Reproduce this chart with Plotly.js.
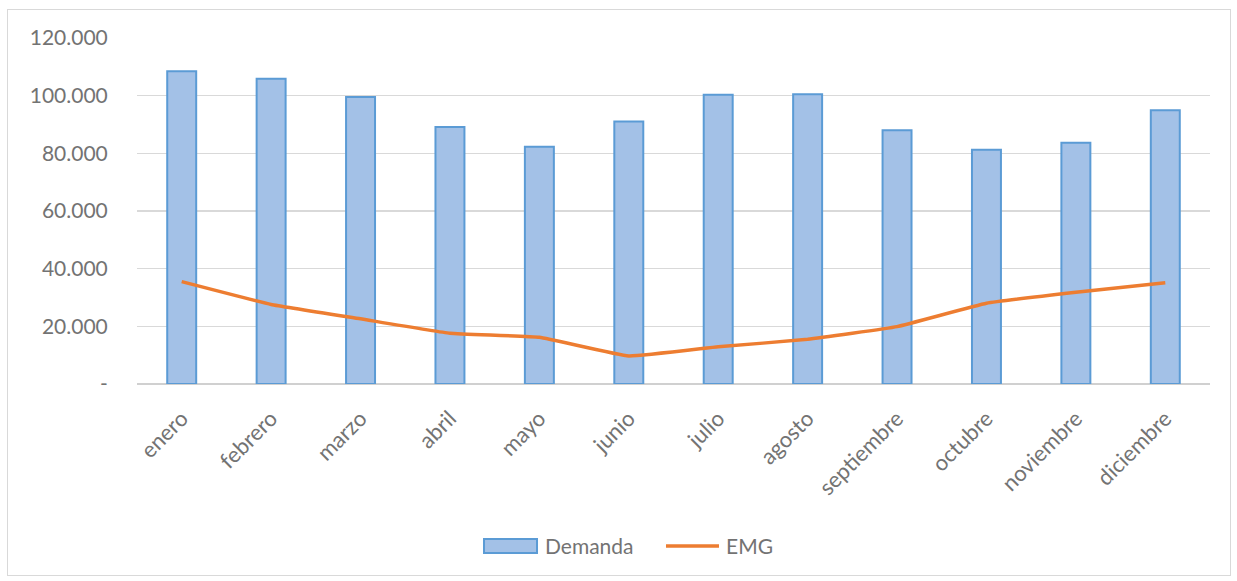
<!DOCTYPE html>
<html>
<head>
<meta charset="utf-8">
<script src="https://cdn.plot.ly/plotly-3.0.1.min.js"></script>
<style>
  html, body { margin: 0; padding: 0; background: #fff; }
  #wrap { position: relative; width: 1237px; height: 581px; }
  #chart { width: 1237px; height: 581px; }
  #frame {
    position: absolute; left: 7px; top: 9px; width: 1222px; height: 565px;
    border: 1px solid #d9d9d9; pointer-events: none;
  }
</style>
</head>
<body>
<div id="wrap">
  <div id="chart"></div>
  <div id="frame"></div>
</div>
<script>
// Monthly demand and EMG
const months = ['enero', 'febrero', 'marzo', 'abril', 'mayo', 'junio',
                'julio', 'agosto', 'septiembre', 'octubre', 'noviembre', 'diciembre'];
const demanda = [108500, 105900, 99500, 89100, 82300, 91000,
                 100300, 100500, 88000, 81200, 83700, 94900];
const emg = [35500, 27600, 22600, 17600, 16200, 9700,
             12900, 15500, 19900, 28000, 31800, 35100];
const yTickVals = [0, 20000, 40000, 60000, 80000, 100000, 120000];
const yTickText = ['-', '20.000', '40.000', '60.000', '80.000', '100.000', '120.000'];
const seriesNames = ['Demanda', 'EMG'];

const textColor = '#737373';
const fontFamily = 'Lato, "Open Sans", sans-serif';
const barFill = '#a3c1e7';
const barEdge = '#5b9bd5';
const lineColor = '#ed7d31';

const traces = [
  {
    type: 'bar',
    name: seriesNames[0],
    x: months,
    y: demanda,
    marker: { color: barFill, line: { color: barEdge, width: 2 } },
    hoverinfo: 'x+y'
  },
  {
    type: 'scatter',
    mode: 'lines',
    name: seriesNames[1],
    x: months,
    y: emg,
    line: { color: lineColor, width: 3.5, shape: 'spline', smoothing: 0.3 },
    hoverinfo: 'x+y'
  }
];

// Legend drawn below the plot with wide swatches
const legendY = -0.468;
const shapes = [
  {
    type: 'rect', xref: 'paper', yref: 'paper',
    x0: 0.3234, x1: 0.3728, y0: -0.4884, y1: -0.448,
    fillcolor: barFill, line: { color: barEdge, width: 2 }
  },
  {
    type: 'line', xref: 'paper', yref: 'paper',
    x0: 0.493, x1: 0.5424, y0: legendY, y1: legendY,
    line: { color: lineColor, width: 3.5 }
  }
];
const annotations = [
  { text: seriesNames[0], x: 0.3784, y: legendY },
  { text: seriesNames[1], x: 0.547, y: legendY }
].map(a => Object.assign({
  xref: 'paper', yref: 'paper', xanchor: 'left', yanchor: 'middle',
  showarrow: false, font: { family: fontFamily, size: 21, color: textColor }
}, a));

const layout = {
  width: 1237,
  height: 581,
  margin: { l: 137, r: 27, t: 38, b: 197 },
  paper_bgcolor: '#ffffff',
  plot_bgcolor: '#ffffff',
  font: { family: fontFamily, size: 21, color: textColor },
  bargap: 0.676,
  showlegend: false,
  shapes: shapes,
  annotations: annotations,
  xaxis: {
    type: 'category',
    tickangle: -45,
    showgrid: false,
    showline: false,
    zeroline: false,
    ticks: 'outside',
    ticklen: 12,
    tickcolor: 'rgba(0,0,0,0)',
    tickfont: { family: fontFamily, size: 22, color: textColor }
  },
  yaxis: {
    range: [0, 120000],
    tickvals: yTickVals,
    ticktext: yTickText,
    showgrid: true,
    gridcolor: '#d9d9d9',
    gridwidth: 1.3,
    zeroline: true,
    zerolinecolor: '#d0d0d0',
    zerolinewidth: 1.5,
    showline: false,
    ticks: 'outside',
    ticklen: 24,
    tickcolor: 'rgba(0,0,0,0)',
    tickfont: { family: fontFamily, size: 21, color: textColor }
  }
};

Plotly.newPlot('chart', traces, layout, { displayModeBar: false, staticPlot: true });
</script>
</body>
</html>
